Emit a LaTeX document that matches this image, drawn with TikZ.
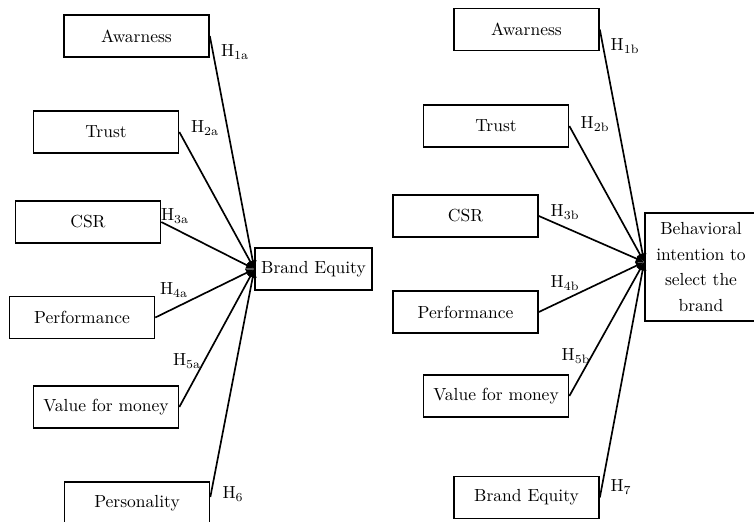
\documentclass[tikz,border=0pt]{standalone}
\usepackage{tikz}
\usetikzlibrary{positioning}
\usetikzlibrary{arrows.meta}
\tikzset{
	factor/.style={draw, rectangle, line width=1pt, inner sep=2pt, minimum width=87pt, minimum height=25.2pt, font=\fontsize{10.5}{12.6}\selectfont},
	outcome/.style={draw, rectangle, line width=1pt, inner sep=2pt, minimum width=70pt, minimum height=25.2pt, font=\fontsize{10.5}{12.6}\selectfont},
	% hypothesis labels next to the arrows
	hyp/.style={inner sep=0pt, font=\fontsize{10.5}{12.6}\selectfont},
}

\begin{document}
\begin{tikzpicture}[x=0.6pt, y=-0.6pt]
			\useasboundingbox (0,0) rectangle (754,522);
			
			% left model
			\node (aw1) [factor] at (136.5,36) {Awarness};
			\node (tr1) [factor] at (106,132) {Trust};
			\node (csr1) [factor] at (88,222) {CSR};
			\node (pf1) [factor] at (82,317.5) {Performance};
			\node (vm1) [factor] at (106,407) {Value for money};
			\node (ps1) [factor] at (137,503) {Personality};
			
			\node (be1) [outcome] at (313.5,269) {Brand Equity};
			
			\node (h1a) [hyp] at (235,52) {H\textsubscript{1a}};
			\node (h2a) [hyp] at (205,128) {H\textsubscript{2a}};
			\node (h3a) [hyp] at (175,216) {H\textsubscript{3a}};
			\node (h4a) [hyp] at (174,290) {H\textsubscript{4a}};
			\node (h5a) [hyp] at (187,361) {H\textsubscript{5a}};
			\node (h6) [hyp] at (233,494) {H\textsubscript{6}};
			
			% right model
			\node (aw2) [factor] at (526.5,29.5) {Awarness};
			\node (tr2) [factor] at (496,126) {Trust};
			\node (csr2) [factor] at (465.5,216) {CSR};
			\node (pf2) [factor] at (465.5,312) {Performance};
			\node (vm2) [factor] at (496,396) {Value for money};
			\node (be2) [factor] at (526.5,497.5) {Brand Equity};
			
			\node (bi2) [outcome, minimum width=67.2pt, minimum height=64.8pt, align=center, execute at begin node={\setlength{\baselineskip}{15.5pt}}] at (701,267) {Behavioral\\intention to\\select the\\brand};
			
			\node (h1b) [hyp] at (625,46) {H\textsubscript{1b}};
			\node (h2b) [hyp] at (595,124) {H\textsubscript{2b}};
			\node (h3b) [hyp] at (565,212) {H\textsubscript{3b}};
			\node (h4b) [hyp] at (565,283) {H\textsubscript{4b}};
			\node (h5b) [hyp] at (576,356) {H\textsubscript{5b}};
			\node (h7) [hyp] at (621,487) {H\textsubscript{7}};
			
			\begin{scope}[line width=1pt, black, ->, >={Latex[length=5pt, width=5pt]}]
				\draw (aw1.east) -- (be1.west);
				\draw (tr1.east) -- (be1.west);
				\draw (csr1.east) -- (be1.west);
				\draw (pf1.east) -- (be1.west);
				\draw (vm1.east) -- (be1.west);
				\draw ([yshift=3.6pt]ps1.east) -- (be1.west);
				
				\draw (aw2.east) -- ([yshift=3pt]bi2.west);
				\draw (tr2.east) -- ([yshift=3pt]bi2.west);
				\draw (csr2.east) -- ([yshift=3pt]bi2.west);
				\draw (pf2.east) -- ([yshift=3pt]bi2.west);
				\draw (vm2.east) -- ([yshift=3pt]bi2.west);
				\draw (be2.east) -- ([yshift=3pt]bi2.west);
			\end{scope}
			
		\end{tikzpicture}
\end{document}
